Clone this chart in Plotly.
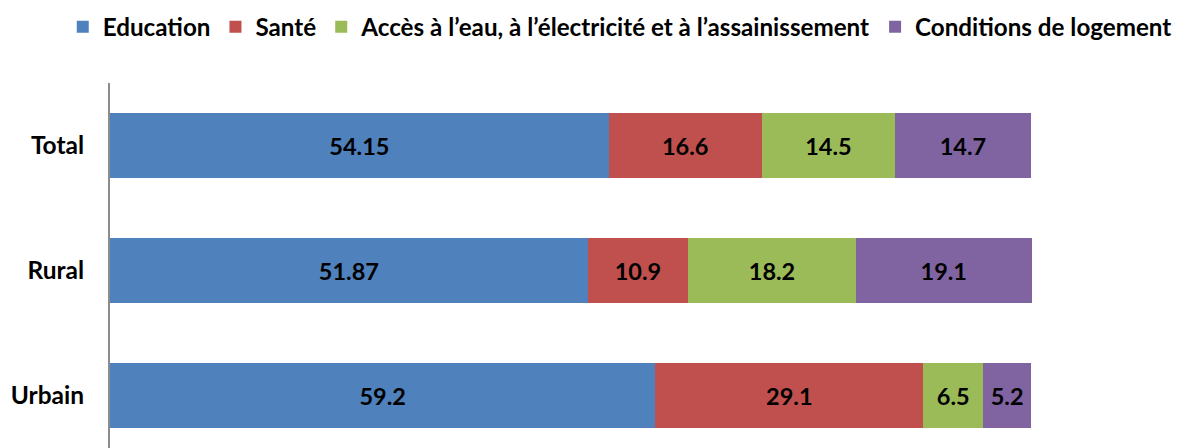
import plotly.graph_objects as go

categories = ["Total", "Rural", "Urbain"]
series_names = ["Education", "Santé", "Accès à l’eau, à l’électricité et à l’assainissement", "Conditions de logement"]
education = [54.15, 51.87, 59.2]
sante = [16.6, 10.9, 29.1]
eau = [14.5, 18.2, 6.5]
logement = [14.7, 19.1, 5.2]
labels_education = ["54.15", "51.87", "59.2"]
labels_sante = ["16.6", "10.9", "29.1"]
labels_eau = ["14.5", "18.2", "6.5"]
labels_logement = ["14.7", "19.1", "5.2"]

colors = ["#4F81BD", "#C0504D", "#9BBB59", "#8064A2"]
FONT = "Lato"

fig = go.Figure()
for name, vals, labs, col in zip(series_names,
                                 [education, sante, eau, logement],
                                 [labels_education, labels_sante, labels_eau, labels_logement],
                                 colors):
    fig.add_trace(go.Bar(
        y=categories, x=vals, name=name, orientation="h",
        marker=dict(color=col, line=dict(width=0)),
        width=0.52,
        text=labs, textposition="inside", insidetextanchor="middle",
        textfont=dict(family=FONT, size=23.5, color="black", weight="bold"),
        textangle=0, hoverinfo="skip",
    ))

fig.update_layout(
    barmode="stack",
    width=1300, height=448,
    margin=dict(l=102, r=276, t=75, b=8, autoexpand=False),
    paper_bgcolor="white", plot_bgcolor="white",
    font=dict(family=FONT, color="black"),
    uniformtext=dict(mode=False),
    showlegend=True,
    legend=dict(orientation="h", xref="paper", yref="paper",
                x=1.157, xanchor="right", y=1.215, yanchor="top",
                font=dict(family=FONT, size=24.2, color="black", weight="bold"),
                itemwidth=30, tracegroupgap=0, traceorder="normal"),
    xaxis=dict(range=[0, 100.1], visible=False, showgrid=False, zeroline=False,
               automargin=False),
    yaxis=dict(type="category", categoryorder="array", categoryarray=categories,
               range=[2.42, -0.5], showgrid=False, zeroline=False, automargin=False,
               showline=True, linecolor="#8C8C8C", linewidth=2,
               ticks="", ticklabelstandoff=19,
               tickfont=dict(family=FONT, size=24.5, color="black", weight="bold")),
)

fig.write_html("out.html")
